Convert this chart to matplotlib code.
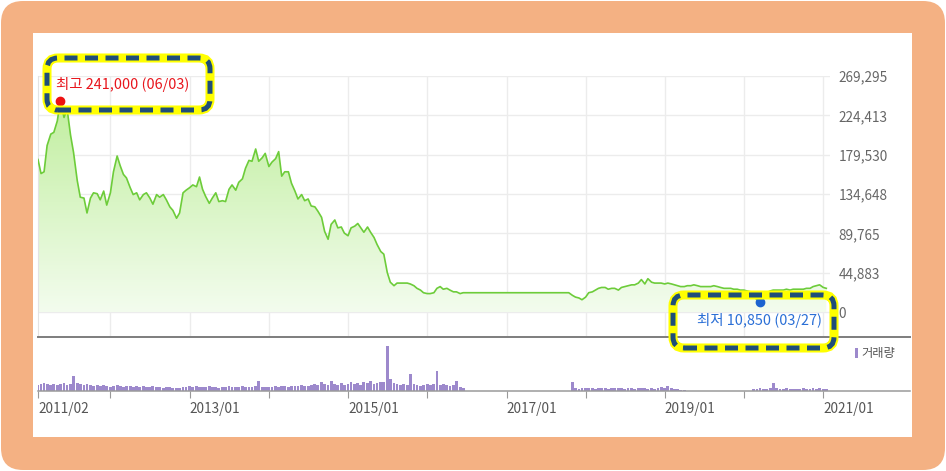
import numpy as np
import pandas as pd
import matplotlib
matplotlib.use("Agg")
import matplotlib.pyplot as plt
import matplotlib.dates as mdates
from matplotlib.patches import FancyBboxPatch, Rectangle
from matplotlib.lines import Line2D
from matplotlib.transforms import IdentityTransform
from matplotlib.colors import LinearSegmentedColormap

'''
주가 차트 (2011/02 ~ 2021/01) - 종가 + 거래량
'''

plt.rcParams['font.family'] = ['Noto Sans CJK KR', 'DejaVu Sans']

# 반월 간격 종가 (천원)
price_k = [174, 158, 160, 190, 203, 205, 218, 241, 222, 232,
           202, 182, 150, 131, 130, 113, 130, 136, 135, 128,
           138, 122, 136, 160, 178, 167, 157, 153, 142, 134,
           136, 128, 134, 136, 130, 123, 134, 131, 134, 128,
           120, 116, 107, 113, 136, 139, 142, 145, 143, 154,
           140, 132, 124, 130, 136, 126, 127, 126, 140, 145,
           139, 148, 152, 164, 173, 172, 186, 172, 176, 181,
           166, 171, 175, 183, 155, 160, 160, 147, 138, 129,
           134, 127, 129, 121, 120, 115, 108, 92, 83, 100,
           105, 96, 97, 90, 87, 96, 98, 101, 96, 91,
           97, 91, 85, 77, 69, 66, 45, 34, 30, 33,
           33, 33, 33, 32, 30, 27, 25, 22, 21, 21,
           22, 27, 29, 26, 27, 25, 23, 23, 21, 22,
           22, 22, 22, 22, 22, 22, 22, 22, 22, 22,
           22, 22, 22, 22, 22, 22, 22, 22, 22, 22,
           22, 22, 22, 22, 22, 22, 22, 22, 22, 22,
           22, 22, 19, 17, 16, 14, 17, 22, 23, 25,
           27, 28, 28, 26, 27, 27, 25, 28, 29, 30,
           31, 31, 33, 37, 32, 38, 34, 33, 33, 33,
           32, 33, 32, 31, 30, 29, 29, 30, 30, 31,
           30, 29, 29, 29, 29, 30, 29, 28, 27, 27,
           27, 26, 26, 25, 25, 24, 23, 18, 14, 10.85,
           17, 22, 24, 25, 25, 25, 25, 26, 25, 26,
           26, 26, 26, 27, 27, 29, 30, 31, 28, 27]

# 거래량 (상대값)
volume = [6, 7, 8, 7, 6, 7, 6, 7, 8, 6,
          7, 15, 8, 7, 6, 7, 6, 5, 6, 5,
          6, 5, 4, 5, 6, 5, 4, 5, 5, 4,
          5, 4, 5, 4, 4, 5, 4, 4, 3, 4,
          4, 3, 3, 3, 4, 4, 5, 4, 5, 4,
          4, 4, 5, 4, 4, 3, 4, 4, 5, 4,
          4, 4, 5, 4, 4, 4, 5, 10, 4, 4,
          4, 4, 5, 4, 5, 5, 4, 5, 5, 5,
          6, 5, 5, 6, 7, 6, 9, 7, 6, 10,
          7, 6, 8, 6, 7, 9, 7, 8, 6, 9,
          8, 10, 7, 8, 9, 9, 45, 12, 8, 7,
          6, 7, 6, 17, 7, 6, 5, 6, 7, 6,
          7, 20, 6, 7, 6, 5, 6, 10, 4, 3,
          0, 0, 0, 0, 0, 0, 0, 0, 0, 0,
          0, 0, 0, 0, 0, 0, 0, 0, 0, 0,
          0, 0, 0, 0, 0, 0, 0, 0, 0, 0,
          0, 0, 9, 3, 2, 3, 3, 3, 3, 2,
          3, 3, 3, 2, 3, 3, 3, 3, 2, 3,
          3, 2, 3, 3, 3, 2, 3, 2, 3, 4,
          3, 5, 3, 2, 2, 1, 1, 0, 0, 0.5,
          0, 0, 0, 0.5, 0, 0, 0, 0, 0, 0.5,
          0, 0, 0, 0, 0, 0, 0, 2, 2, 3,
          2, 2, 3, 8, 3, 2, 2, 3, 2, 2,
          2, 2, 3, 2, 2, 3, 2, 3, 2, 2]

y_ticks = [0, 44883, 89765, 134648, 179530, 224413, 269295]
x_label_dates = ["2011-02-01", "2013-01-01", "2015-01-01", "2017-01-01", "2019-01-01", "2021-01-01"]
high_text = "최고 241,000 (06/03)"
low_text = "최저 10,850 (03/27)"
volume_label = "거래량"

W, H = 946, 471


def px(x, y):  # 이미지 좌표(위가 0) -> 디스플레이 좌표
    return x, H - y


def draw_frame(fig):
    ident = IdentityTransform()
    fig.add_artist(FancyBboxPatch((1, 1), W - 2, H - 2, boxstyle="round,pad=0,rounding_size=22",
                                  fc="#f4b183", ec="none", transform=ident, zorder=-20))
    fig.add_artist(Rectangle(px(33, 437), 912 - 33, 437 - 33, fc="white", ec="none",
                             transform=ident, zorder=-19))


def highlight_box(fig, x0, y0, x1, y1):
    ident = IdentityTransform()
    for lw, col, ls in [(6.5, "#ffff00", "solid"), (3.6, "#1f4e79", (0, (2.6, 1.5)))]:
        fig.add_artist(FancyBboxPatch(px(x0, y1), x1 - x0, y1 - y0,
                                      boxstyle="round,pad=0,rounding_size=11",
                                      fc="none", ec=col, lw=lw, ls=ls,
                                      transform=ident, zorder=30))


def plot_stock_chart():
    fig = plt.figure(figsize=(W / 100, H / 100), dpi=100)
    fig.patch.set_facecolor("white")
    draw_frame(fig)

    dates = pd.date_range("2011-02-01", periods=len(price_k), freq="SMS")
    prices = np.array(price_k) * 1000
    xnum = mdates.date2num(dates)
    x_min = mdates.date2num(pd.Timestamp("2011-02-01"))
    x_max = mdates.date2num(pd.Timestamp("2021-02-01"))
    y_top = y_ticks[-1]
    y_bot = -y_top * 25 / 236

    ax = fig.add_axes([38 / W, 1 - 337 / H, (830 - 38) / W, (337 - 76) / H])
    axv = fig.add_axes([38 / W, 1 - 391 / H, (830 - 38) / W, (391 - 337) / H], sharex=ax)
    for a in (ax, axv):
        a.set_facecolor("none")

    # 그라데이션 채우기
    poly = ax.fill_between(xnum, prices, 0, color="none", lw=0)
    cmap = LinearSegmentedColormap.from_list("g", ["#f3fcee", "#bfee9c"])
    grad = np.linspace(0, 1, 256).reshape(-1, 1)
    img = ax.imshow(grad, extent=[x_min, x_max, 0, 250000], aspect="auto", cmap=cmap,
                    origin="lower", zorder=1)
    img.set_clip_path(poly.get_paths()[0], transform=ax.transData)
    ax.plot(xnum, prices, color="#6dcc3a", lw=1.2, zorder=3)

    ax.set_xlim(x_min, x_max)
    ax.set_ylim(y_bot, y_top)

    # 그리드
    grid_dates = [pd.Timestamp("2011-02-01")] + [pd.Timestamp(f"{y}-01-01") for y in range(2012, 2022)]
    grid_num = mdates.date2num(grid_dates)
    for g in grid_num[1:]:
        ax.axvline(g, color="#ececec", lw=1, zorder=0)
    for t in y_ticks:
        ax.axhline(t, color="#ececec", lw=1, zorder=0)
    ax.set_yticks(y_ticks)
    ax.set_yticklabels([f"{t:,}" for t in y_ticks])
    ax.yaxis.tick_right()
    ax.tick_params(axis="y", length=0, pad=6, labelsize=9.8, labelcolor="#666666")
    ax.tick_params(axis="x", length=0, labelbottom=False)
    for s in ("top", "right", "bottom"):
        ax.spines[s].set_visible(False)
    ax.spines["left"].set_color("#e3e3e3")

    # 최고 / 최저
    i_hi = int(np.argmax(prices))
    i_lo = int(np.argmin(prices))
    ax.plot(xnum[i_hi], prices[i_hi], "o", color="#ee1111", ms=6, zorder=5, clip_on=False)
    ax.annotate(high_text, (xnum[i_hi], prices[i_hi]), xytext=(-3, 12), textcoords="offset points",
                color="#e8151c", fontsize=10.4, va="center", ha="left", annotation_clip=False)
    ax.plot(xnum[i_lo], prices[i_lo], "o", color="#1c63d0", ms=6, zorder=5, clip_on=False)
    ax.annotate(low_text, (xnum[i_lo], prices[i_lo]), xytext=(45, -13), textcoords="offset points",
                color="#2a6fd6", fontsize=10.4, va="center", ha="right", annotation_clip=False)

    # 거래량
    axv.bar(xnum, volume, width=13, color="#9d89cc", lw=0, align="center")
    axv.set_ylim(0, 54)
    axv.set_yticks([])
    for s in ("top", "right", "left", "bottom"):
        axv.spines[s].set_visible(False)
    axv.set_xticks(grid_num)
    lab_set = set(x_label_dates)
    axv.set_xticklabels([d.strftime("%Y/%m") if d.strftime("%Y-%m-%d") in lab_set else ""
                         for d in grid_dates], ha="left")
    axv.tick_params(axis="x", length=5, color="#999999", direction="out", pad=3,
                    labelsize=9.8, labelcolor="#555555")

    ident = IdentityTransform()
    fig.add_artist(Line2D([38, 910], [H - 337, H - 337], color="#7d7d7d", lw=1.4, transform=ident))
    fig.add_artist(Line2D([38, 910], [H - 391, H - 391], color="#9a9a9a", lw=1.1, transform=ident))

    # 거래량 범례
    fig.add_artist(Rectangle(px(855, 358), 3, 10, fc="#9d89cc", ec="none", transform=ident))
    fig.text(861 / W, 1 - 353 / H, volume_label, fontsize=8.8, color="#555555", va="center", ha="left")

    highlight_box(fig, 47, 58, 210, 110)
    highlight_box(fig, 673, 295, 834, 348)

    plt.savefig("out.png", dpi=100)


if __name__ == '__main__':
    plot_stock_chart()
